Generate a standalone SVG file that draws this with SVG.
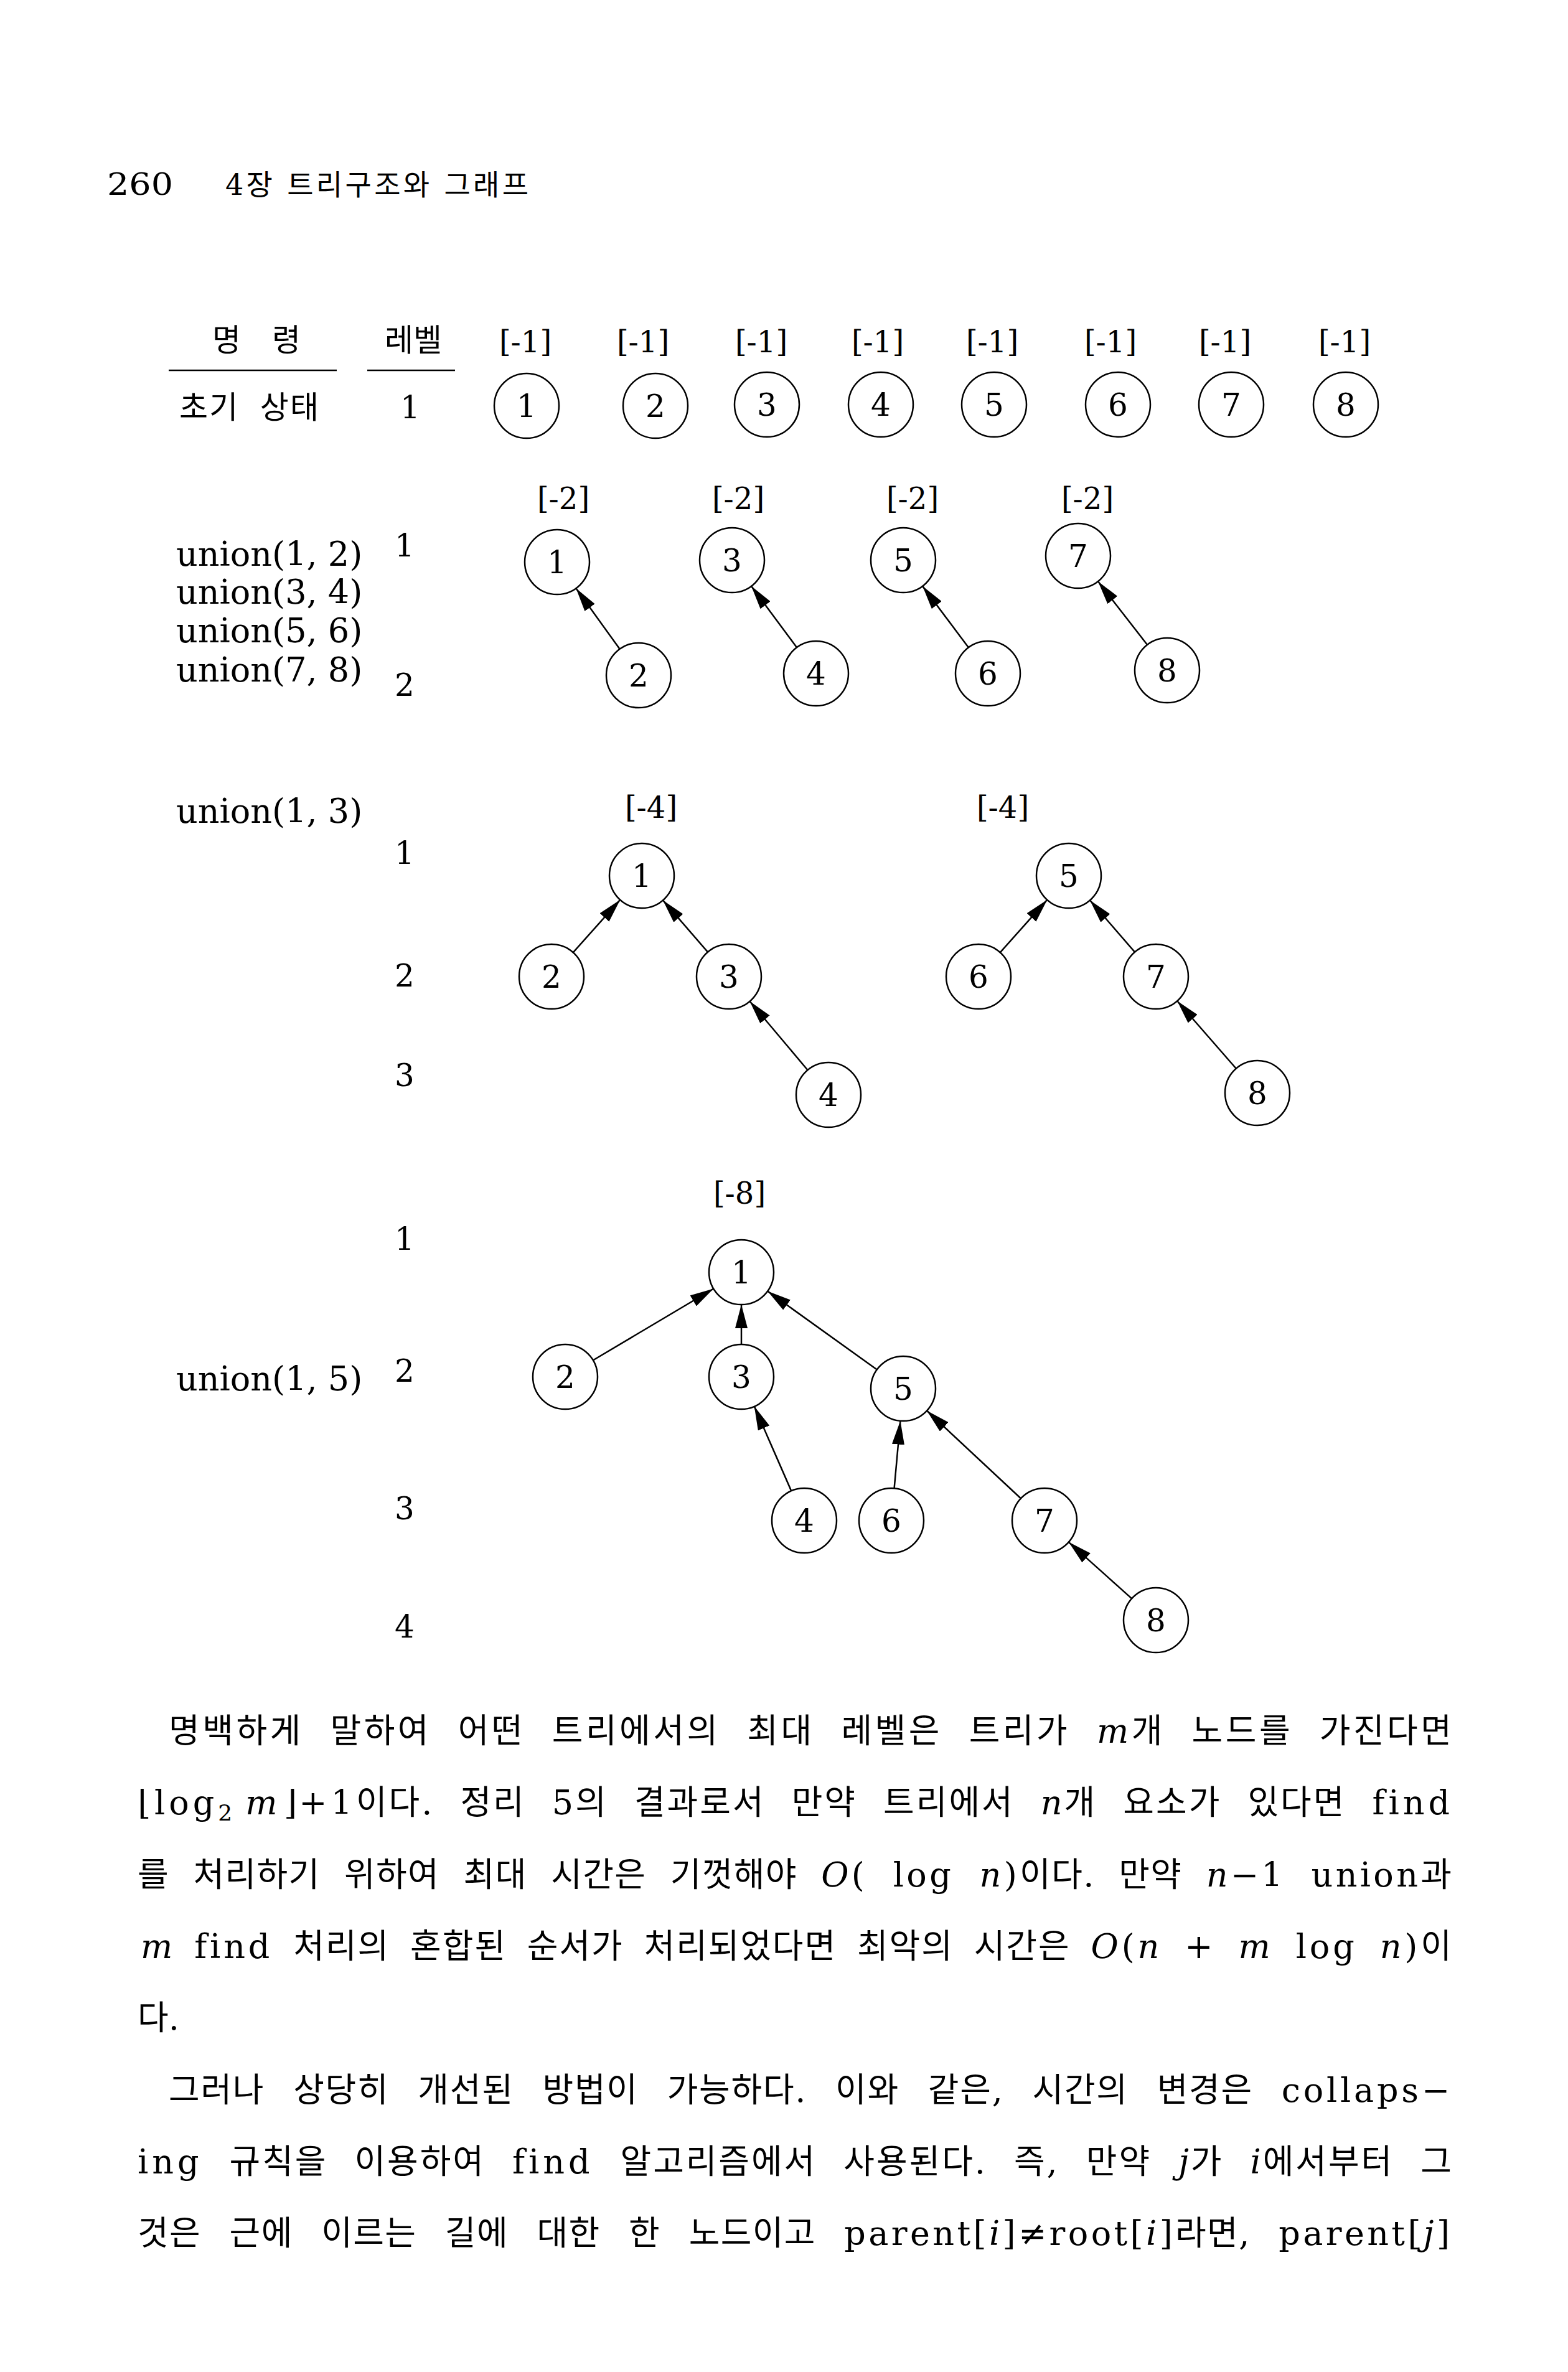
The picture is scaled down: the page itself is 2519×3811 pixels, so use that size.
<svg xmlns="http://www.w3.org/2000/svg" width="2519" height="3811" viewBox="0 0 2519 3811">
<style>
text{font-family:"DejaVu Serif","Noto Sans CJK KR",serif;fill:#000}
.k{font-family:"Noto Sans CJK KR","DejaVu Serif",sans-serif}
.n circle{fill:none;stroke:#000;stroke-width:2.5}
.n text{font-size:50px;text-anchor:middle}
.lb{font-size:48px;text-anchor:middle}
.lv{font-size:50px;text-anchor:middle}
.u{font-size:54px}
.e line{stroke:#000;stroke-width:2.5;marker-end:url(#ah)}
.b{font-size:54px}
.i{font-style:italic}
.w{letter-spacing:3px}
</style>
<defs>
<marker id="ah" markerUnits="userSpaceOnUse" markerWidth="38" markerHeight="20" refX="38" refY="10" orient="auto">
<path d="M0,0 L38,10 L0,20 z" fill="#000"/>
</marker>
</defs>
<rect width="2519" height="3811" fill="#fff"/>

<!-- header -->
<text x="172" y="313" font-size="48" textLength="106" lengthAdjust="spacingAndGlyphs">260</text>
<text x="362" y="313" font-size="46" textLength="487" lengthAdjust="spacing">4장 트리구조와 그래프</text>

<!-- table header -->
<text class="k" x="364" y="564" font-size="50" text-anchor="middle">명</text>
<text class="k" x="460" y="564" font-size="50" text-anchor="middle">령</text>
<text class="k" x="664" y="564" font-size="50" text-anchor="middle">레벨</text>
<line x1="271" y1="595" x2="541" y2="595" stroke="#000" stroke-width="2.5"/>
<line x1="590" y1="595" x2="731" y2="595" stroke="#000" stroke-width="2.5"/>
<g id="labels-row1" class="lb">
<text x="844" y="566">[-1]</text><text x="1033" y="566">[-1]</text><text x="1223" y="566">[-1]</text><text x="1410" y="566">[-1]</text>
<text x="1594" y="566">[-1]</text><text x="1784" y="566">[-1]</text><text x="1968" y="566">[-1]</text><text x="2160" y="566">[-1]</text>
</g>
<text class="k" x="288" y="672" font-size="50" word-spacing="20" textLength="224" lengthAdjust="spacing">초기 상태</text>
<text class="lv" x="659" y="672">1</text>

<g id="r1n1" class="n"><circle cx="846" cy="652" r="52"/><text x="846" y="670">1</text></g>
<g id="r1n2" class="n"><circle cx="1053" cy="652" r="52"/><text x="1053" y="670">2</text></g>
<g id="r1n3" class="n"><circle cx="1232" cy="650" r="52"/><text x="1232" y="668">3</text></g>
<g id="r1n4" class="n"><circle cx="1415" cy="650" r="52"/><text x="1415" y="668">4</text></g>
<g id="r1n5" class="n"><circle cx="1597" cy="650" r="52"/><text x="1597" y="668">5</text></g>
<g id="r1n6" class="n"><circle cx="1796" cy="650" r="52"/><text x="1796" y="668">6</text></g>
<g id="r1n7" class="n"><circle cx="1978" cy="650" r="52"/><text x="1978" y="668">7</text></g>
<g id="r1n8" class="n"><circle cx="2162" cy="650" r="52"/><text x="2162" y="668">8</text></g>

<!-- block 2 -->
<g class="u">
<text x="283" y="909">union(1, 2)</text>
<text x="283" y="970">union(3, 4)</text>
<text x="283" y="1032">union(5, 6)</text>
<text x="283" y="1095">union(7, 8)</text>
</g>
<text class="lv" x="650" y="894">1</text>
<text class="lv" x="650" y="1118">2</text>
<g class="lb">
<text x="905" y="818">[-2]</text><text x="1186" y="818">[-2]</text><text x="1466" y="818">[-2]</text><text x="1747" y="818">[-2]</text>
</g>
<g id="r2n1" class="n"><circle cx="895" cy="903" r="52"/><text x="895" y="921">1</text></g>
<g id="r2n3" class="n"><circle cx="1176" cy="900" r="52"/><text x="1176" y="918">3</text></g>
<g id="r2n5" class="n"><circle cx="1451" cy="900" r="52"/><text x="1451" y="918">5</text></g>
<g id="r2n7" class="n"><circle cx="1732" cy="893" r="52"/><text x="1732" y="911">7</text></g>
<g id="r2n2" class="n"><circle cx="1026" cy="1085" r="52"/><text x="1026" y="1103">2</text></g>
<g id="r2n4" class="n"><circle cx="1311" cy="1082" r="52"/><text x="1311" y="1100">4</text></g>
<g id="r2n6" class="n"><circle cx="1587" cy="1082" r="52"/><text x="1587" y="1100">6</text></g>
<g id="r2n8" class="n"><circle cx="1875" cy="1077" r="52"/><text x="1875" y="1095">8</text></g>

<!-- block 3 -->
<text class="u" x="283" y="1322">union(1, 3)</text>
<text class="lv" x="650" y="1388">1</text>
<text class="lv" x="650" y="1585">2</text>
<text class="lv" x="650" y="1745">3</text>
<text class="lb" x="1046" y="1314">[-4]</text>
<text class="lb" x="1611" y="1314">[-4]</text>
<g id="r3n1" class="n"><circle cx="1031" cy="1407" r="52"/><text x="1031" y="1425">1</text></g>
<g id="r3n2" class="n"><circle cx="886" cy="1569" r="52"/><text x="886" y="1587">2</text></g>
<g id="r3n3" class="n"><circle cx="1171" cy="1569" r="52"/><text x="1171" y="1587">3</text></g>
<g id="r3n4" class="n"><circle cx="1331" cy="1759" r="52"/><text x="1331" y="1777">4</text></g>
<g id="r3n5" class="n"><circle cx="1717" cy="1407" r="52"/><text x="1717" y="1425">5</text></g>
<g id="r3n6" class="n"><circle cx="1572" cy="1569" r="52"/><text x="1572" y="1587">6</text></g>
<g id="r3n7" class="n"><circle cx="1857" cy="1569" r="52"/><text x="1857" y="1587">7</text></g>
<g id="r3n8" class="n"><circle cx="2020" cy="1756" r="52"/><text x="2020" y="1774">8</text></g>

<!-- block 4 -->
<text class="lb" x="1188" y="1934">[-8]</text>
<text class="lv" x="650" y="2008">1</text>
<text class="lv" x="650" y="2220">2</text>
<text class="lv" x="650" y="2441">3</text>
<text class="lv" x="650" y="2631">4</text>
<text class="u" x="283" y="2234">union(1, 5)</text>
<g id="r4n1" class="n"><circle cx="1191" cy="2044" r="52"/><text x="1191" y="2062">1</text></g>
<g id="r4n2" class="n"><circle cx="908" cy="2212" r="52"/><text x="908" y="2230">2</text></g>
<g id="r4n3" class="n"><circle cx="1191" cy="2212" r="52"/><text x="1191" y="2230">3</text></g>
<g id="r4n5" class="n"><circle cx="1451" cy="2231" r="52"/><text x="1451" y="2249">5</text></g>
<g id="r4n4" class="n"><circle cx="1292" cy="2443" r="52"/><text x="1292" y="2461">4</text></g>
<g id="r4n6" class="n"><circle cx="1432" cy="2443" r="52"/><text x="1432" y="2461">6</text></g>
<g id="r4n7" class="n"><circle cx="1678" cy="2443" r="52"/><text x="1678" y="2461">7</text></g>
<g id="r4n8" class="n"><circle cx="1857" cy="2603" r="52"/><text x="1857" y="2621">8</text></g>

<g id="connectors" class="e">
<line x1="995.6" y1="1042.8" x2="925.4" y2="945.2"/>
<line x1="1280" y1="1040.2" x2="1207" y2="941.8"/>
<line x1="1555.9" y1="1040.3" x2="1482.1" y2="941.7"/>
<line x1="1843.1" y1="1035.9" x2="1763.9" y2="934.1"/>
<line x1="920.7" y1="1530.3" x2="996.3" y2="1445.7"/>
<line x1="1137" y1="1529.6" x2="1065" y2="1446.4"/>
<line x1="1297.5" y1="1719.2" x2="1204.5" y2="1608.8"/>
<line x1="1606.7" y1="1530.3" x2="1682.3" y2="1445.7"/>
<line x1="1823" y1="1529.6" x2="1751" y2="1446.4"/>
<line x1="1985.8" y1="1716.8" x2="1891.2" y2="1608.2"/>
<line x1="952.7" y1="2185.5" x2="1146.3" y2="2070.5"/>
<line x1="1191" y1="2160" x2="1191" y2="2096"/>
<line x1="1408.8" y1="2200.6" x2="1233.2" y2="2074.4"/>
<line x1="1271.2" y1="2395.4" x2="1211.8" y2="2259.6"/>
<line x1="1436.6" y1="2391.2" x2="1446.4" y2="2282.8"/>
<line x1="1640" y1="2407.5" x2="1489" y2="2266.5"/>
<line x1="1818.2" y1="2568.4" x2="1716.8" y2="2477.6"/>
</g>

<!-- body text -->
<g class="b">
<text x="271" y="2800" word-spacing="21" textLength="2061" lengthAdjust="spacing">명백하게 말하여 어떤 트리에서의 최대 레벨은 트리가 <tspan class="i">m</tspan>개 노드를 가진다면</text>
<text x="221" y="2915" word-spacing="22" textLength="2111" lengthAdjust="spacing"><tspan class="w">⌊log</tspan><tspan font-size="36" dy="10">2</tspan><tspan class="i" dy="-10" dx="18">m</tspan><tspan dx="8">⌋</tspan><tspan class="w">+1</tspan>이다. 정리 5의 결과로서 만약 트리에서 <tspan class="i">n</tspan>개 요소가 있다면 <tspan class="w">find</tspan></text>
<text x="221" y="3031" word-spacing="20" textLength="2111" lengthAdjust="spacing">를 처리하기 위하여 최대 시간은 기껏해야 <tspan class="w"><tspan class="i">O</tspan>( log <tspan class="i">n</tspan>)</tspan>이다. 만약 <tspan class="w"><tspan class="i">n</tspan>−1 union</tspan>과</text>
<text x="226" y="3146" word-spacing="14" textLength="2106" lengthAdjust="spacing"><tspan class="i">m</tspan> <tspan class="w">find</tspan> 처리의 혼합된 순서가 처리되었다면 최악의 시간은 <tspan class="w"><tspan class="i">O</tspan>(<tspan class="i">n</tspan> + <tspan class="i">m</tspan> log <tspan class="i">n</tspan>)</tspan>이</text>
<text x="221" y="3261">다.</text>
<text x="271" y="3377" word-spacing="27" textLength="2061" lengthAdjust="spacing">그러나 상당히 개선된 방법이 가능하다. 이와 같은, 시간의 변경은 <tspan class="w">collaps−</tspan></text>
<text x="221" y="3492" word-spacing="23" textLength="2111" lengthAdjust="spacing"><tspan class="w">ing</tspan> 규칙을 이용하여 <tspan class="w">find</tspan> 알고리즘에서 사용된다. 즉, 만약 <tspan class="i">j</tspan>가 <tspan class="i">i</tspan>에서부터 그</text>
<text x="221" y="3607" word-spacing="27" textLength="2111" lengthAdjust="spacing">것은 근에 이르는 길에 대한 한 노드이고 <tspan class="w">parent[<tspan class="i">i</tspan>]≠root[<tspan class="i">i</tspan>]</tspan>라면, <tspan class="w">parent[<tspan class="i">j</tspan>]</tspan></text>
</g>
</svg>
